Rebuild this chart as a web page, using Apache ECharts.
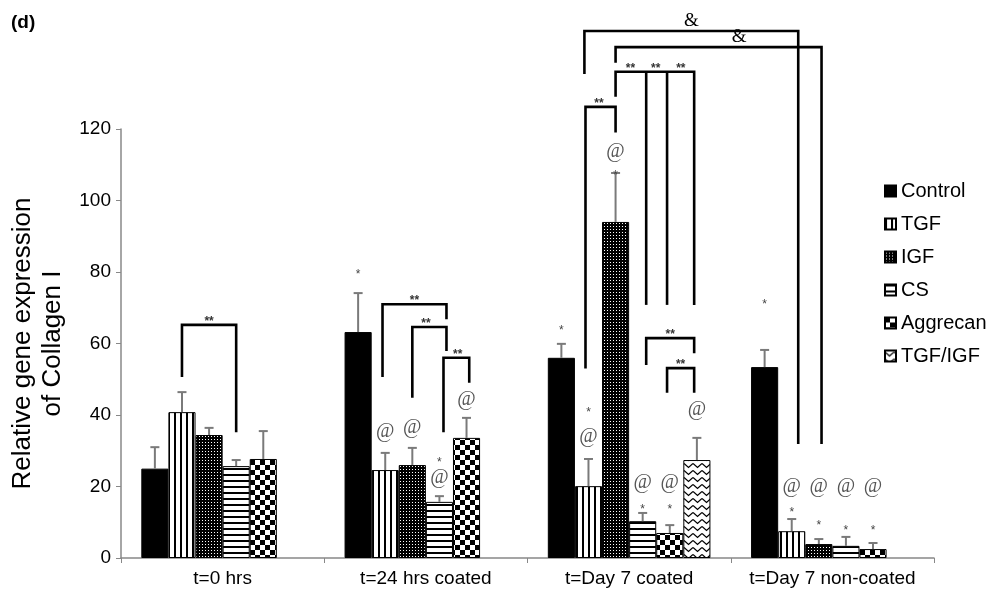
<!DOCTYPE html>
<html><head><meta charset="utf-8">
<script src="https://cdn.jsdelivr.net/npm/echarts@6/dist/echarts.min.js"></script>
<style>html,body{margin:0;padding:0;background:#fff}#c{width:990px;height:599px}</style>
</head><body><div id="c"></div><script>
// ---- data ----
const categories = ['t=0 hrs', 't=24 hrs coated', 't=Day 7 coated', 't=Day 7 non-coated'];
const seriesNames = ['Control', 'TGF', 'IGF', 'CS', 'Aggrecan', 'TGF/IGF'];
const control  = [25.0, 63.2, 56.0, 53.4];
const tgf      = [40.8, 24.6, 20.1, 7.5];
const igf      = [34.4, 26.0, 94.0, 3.9];
const cs       = [25.7, 15.7, 10.3, 3.4];
const aggrecan = [27.7, 33.6, 7.0, 2.5];
const tgfIgf   = [null, null, 27.4, null];
// upper ends of error bars
const controlErr  = [31.0, 74.1, 59.9, 58.2];
const tgfErr      = [46.4, 29.4, 27.7, 10.9];
const igfErr      = [36.4, 30.8, 107.7, 5.3];
const csErr       = [27.4, 17.3, 12.6, 5.9];
const aggrecanErr = [35.5, 39.2, 9.2, 4.2];
const tgfIgfErr   = [null, null, 33.6, null];
const yTicks = [0, 20, 40, 60, 80, 100, 120];
// significance brackets: legs [group, series, offsetInBars, bottomValue], top value, labels [text, fraction]
const brackets = [
  {top: 65.2, legs: [[0,1,0,50.6],[0,3,0,35.2]], labels: [['**',0.5]]},
  {top: 71.0, legs: [[1,1,-0.1,50.6],[1,3,0.26,66.8]], labels: [['**',0.5]]},
  {top: 64.6, legs: [[1,2,0,44.8],[1,3,0.26,57.9]], labels: [['**',0.4]]},
  {top: 56.0, legs: [[1,3,0.15,35.2],[1,4,0.1,49.0]], labels: [['**',0.55]]},
  {top: 126.2, legs: [[2,1,-0.11,53.0],[2,2,0,119.0]], labels: [['**',0.45]]},
  {top: 136.0, legs: [[2,2,0,129.0],[2,3,0.13,70.8],[2,4,-0.1,70.8],[2,5,-0.1,70.8]], labels: [['**',0.19],['**',0.51],['**',0.83]]},
  {top: 61.5, legs: [[2,3,0.13,54.0],[2,5,-0.1,57.3]], labels: [['**',0.5]]},
  {top: 53.1, legs: [[2,4,-0.1,46.2],[2,5,-0.1,46.2]], labels: [['**',0.5]]},
  {top: 147.4, legs: [[2,1,-0.15,135.4],[3,1,0.24,31.9]], labels: [['&',0.5]]},
  {top: 142.9, legs: [[2,2,0,138.5],[3,2,0.1,31.9]], labels: [['&',0.6]]}
];
// marks above bars: [group, series, value, text]
const marks = [
  [1,0,80.0,'*'],
  [1,1,35.2,'@'],[1,2,36.4,'@'],[1,3,27.4,'*'],[1,3,22.4,'@'],[1,4,44.2,'@'],
  [2,0,64.3,'*'],[2,1,41.4,'*'],[2,1,33.8,'@'],[2,2,113.6,'@'],[2,2,107.9,'*'],
  [2,3,21.0,'@'],[2,3,14.3,'*'],[2,4,21.0,'@'],[2,4,14.3,'*'],[2,5,41.4,'@'],
  [3,0,71.6,'*'],[3,1,19.9,'@'],[3,1,13.4,'*'],[3,2,19.9,'@'],[3,2,9.8,'*'],
  [3,3,19.9,'@'],[3,3,8.4,'*'],[3,4,19.9,'@'],[3,4,8.4,'*']
];

const values = [control, tgf, igf, cs, aggrecan, tgfIgf];
const errs = [controlErr, tgfErr, igfErr, csErr, aggrecanErr, tgfIgfErr];
const FONT = '"Liberation Sans", Arial, sans-serif';

// ---- patterns ----
function pat(w, h, draw) {
  const c = document.createElement('canvas'); c.width = w; c.height = h;
  const x = c.getContext('2d');
  x.fillStyle = '#fff'; x.fillRect(0, 0, w, h);
  x.fillStyle = '#000'; x.strokeStyle = '#000';
  draw(x);
  return {image: c, repeat: 'repeat'};
}
const fills = [
  '#000',
  pat(6, 6, x => x.fillRect(0, 0, 2, 6)),
  pat(3, 3, x => { x.fillRect(0, 0, 3, 3); x.fillStyle = '#fff'; x.fillRect(1, 1, 1, 1); }),
  pat(6, 6, x => x.fillRect(0, 0, 6, 2)),
  pat(10, 10, x => { x.fillRect(0, 0, 5, 5); x.fillRect(5, 5, 5, 5); }),
  pat(9, 7, x => { x.lineWidth = 1.3; x.beginPath(); x.moveTo(0, 1.5); x.lineTo(4.5, 5.5); x.lineTo(9, 1.5); x.stroke(); })
];

function barX(api, g, s, off) {
  const c = api.coord([g, 0]);
  const band = api.size([1, 0])[0];
  const bw = band * 0.8 / 6;
  return c[0] - band * 0.4 + (s + 0.5 + (off || 0)) * bw;
}

const barSeries = seriesNames.map((n, i) => ({
  name: n, type: 'bar', data: values[i],
  barGap: '0%', barCategoryGap: '20%',
  itemStyle: {color: fills[i], borderColor: '#000', borderWidth: 1},
  z: 2
}));

const errData = [];
values.forEach((arr, s) => arr.forEach((v, g) => { if (v != null) errData.push([g, v, errs[s][g], s]); }));

const errSeries = {
  type: 'custom', z: 5, clip: false, silent: true,
  data: errData, encode: {x: 0, y: 2},
  renderItem(params, api) {
    const g = api.value(0), v = api.value(1), u = api.value(2), s = api.value(3);
    const x = barX(api, g, s, 0);
    const y0 = api.coord([g, v])[1], y1 = api.coord([g, u])[1];
    const st = {stroke: '#7a7a7a', lineWidth: 2};
    return {type: 'group', children: [
      {type: 'line', shape: {x1: x, y1: y0, x2: x, y2: y1}, style: st},
      {type: 'line', shape: {x1: x - 4.5, y1: y1, x2: x + 4.5, y2: y1}, style: st}
    ]};
  }
};

const bracketSeries = {
  type: 'custom', z: 6, clip: false, silent: true,
  data: brackets.map((b, i) => [b.legs[0][0], b.top, i]), encode: {x: 0, y: 1},
  renderItem(params, api) {
    const b = brackets[params.dataIndex];
    const ty = api.coord([0, b.top])[1];
    const xs = b.legs.map(l => barX(api, l[0], l[1], l[2]));
    const bys = b.legs.map(l => api.coord([0, l[3]])[1]);
    const n = xs.length - 1;
    const st = {stroke: '#000', lineWidth: 2.6, fill: null, lineJoin: 'miter'};
    const ch = [{type: 'polyline', shape: {points: [[xs[0], bys[0]], [xs[0], ty], [xs[n], ty], [xs[n], bys[n]]]}, style: st}];
    for (let i = 1; i < n; i++) ch.push({type: 'line', shape: {x1: xs[i], y1: ty, x2: xs[i], y2: bys[i]}, style: st});
    b.labels.forEach(([t, f]) => {
      const x = xs[0] + (xs[n] - xs[0]) * f;
      const amp = t === '&';
      ch.push({type: 'text', style: {
        text: t, x: x, y: amp ? ty - 10 : ty - 3,
        fill: amp ? '#000' : '#333',
        font: amp ? '19px "Liberation Serif", serif' : 'bold 12px ' + FONT,
        align: 'center', verticalAlign: 'middle', textAlign: 'center', textVerticalAlign: 'middle'
      }});
    });
    return {type: 'group', children: ch};
  }
};

const markSeries = {
  type: 'custom', z: 6, clip: false, silent: true,
  data: marks.map(m => [m[0], m[2], m[1]]), encode: {x: 0, y: 1},
  renderItem(params, api) {
    const m = marks[params.dataIndex];
    const x = barX(api, m[0], m[1], 0);
    const y = api.coord([m[0], m[2]])[1];
    const at = m[3] === '@';
    return {type: 'text', style: {
      text: m[3], x: x, y: at ? y : y + 3,
      fill: at ? '#555' : '#444',
      font: at ? '20px "Liberation Serif", serif' : '12px ' + FONT,
      align: 'center', verticalAlign: 'middle', textAlign: 'center', textVerticalAlign: 'middle'
    }};
  }
};

const chart = echarts.init(document.getElementById('c'), null, {renderer: 'canvas'});
chart.setOption({
  animation: false,
  backgroundColor: '#fff',
  title: {text: '(d)', left: 6, top: 8, textStyle: {fontSize: 19, fontWeight: 'bold', color: '#000', fontFamily: FONT}},
  legend: {
    orient: 'vertical', left: 884, top: 181, padding: 0, itemWidth: 11, itemHeight: 11, itemGap: 13,
    icon: 'rect', data: seriesNames,
    textStyle: {fontSize: 20, color: '#000', lineHeight: 20, padding: [0, 0, 0, 0], fontFamily: FONT}
  },
  grid: {left: 118, right: 56, top: 129, bottom: 41, containLabel: false},
  xAxis: {
    type: 'category', data: categories,
    axisLine: {lineStyle: {color: '#888', width: 1.5}},
    axisTick: {show: true, length: 5, interval: 0, lineStyle: {color: '#888'}},
    axisLabel: {fontSize: 19, color: '#000', margin: 11, interval: 0, fontFamily: FONT}
  },
  yAxis: {
    type: 'value', min: yTicks[0], max: yTicks[yTicks.length - 1], interval: 20,
    splitLine: {show: false},
    axisLine: {show: true, lineStyle: {color: '#888', width: 1.5}},
    axisTick: {show: true, length: 5, lineStyle: {color: '#888'}},
    axisLabel: {fontSize: 19, color: '#000', margin: 10, fontFamily: FONT},
    name: 'Relative gene expression\nof Collagen I', nameLocation: 'middle', nameRotate: 90, nameGap: 53,
    nameTextStyle: {fontSize: 26, color: '#000', lineHeight: 30, fontFamily: FONT}
  },
  series: [...barSeries, errSeries, bracketSeries, markSeries]
});
</script></body></html>
